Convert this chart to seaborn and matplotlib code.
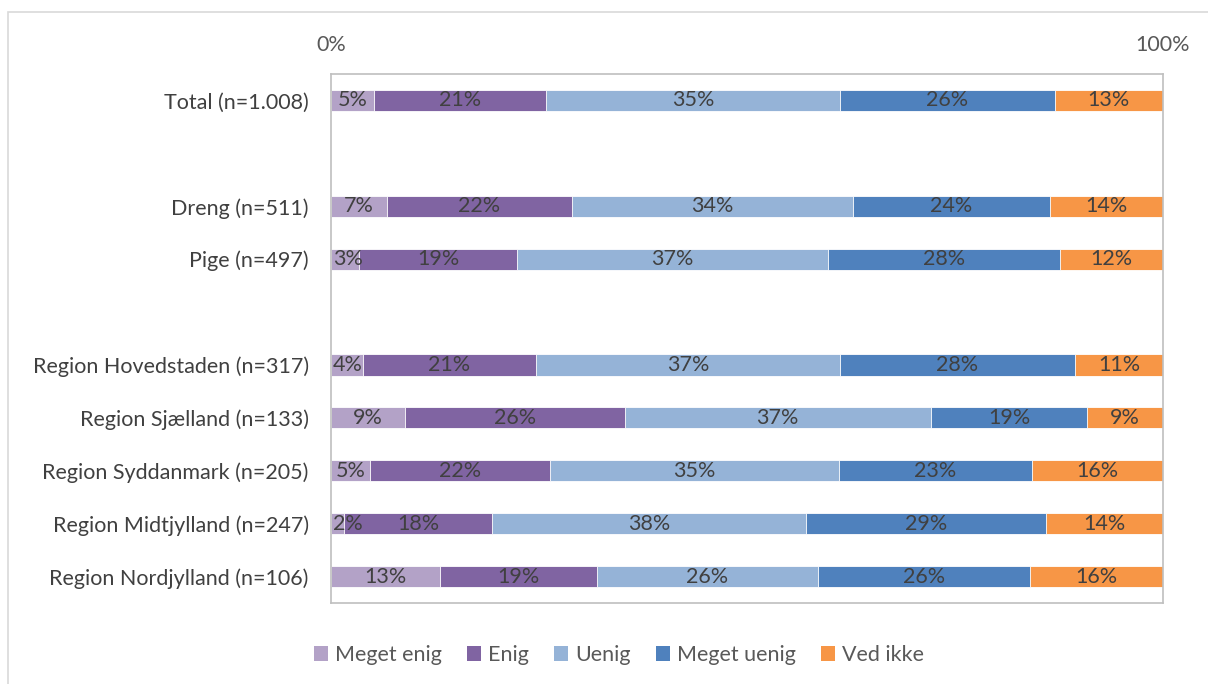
import numpy as np
import pandas as pd
import matplotlib.pyplot as plt
import seaborn as sns
from matplotlib.patches import Patch, Rectangle

# Groups shown on the y axis (blank rows separate the blocks)
groups = ["Total (n=1.008)", " ", "Dreng (n=511)", "Pige (n=497)", "  ",
          "Region Hovedstaden (n=317)", "Region Sjælland (n=133)",
          "Region Syddanmark (n=205)", "Region Midtjylland (n=247)",
          "Region Nordjylland (n=106)"]
answers = ["Meget enig", "Enig", "Uenig", "Meget uenig", "Ved ikke"]
colors = ["#B3A2C7", "#8064A2", "#95B3D7", "#4F81BD", "#F79646"]

# share (%) per answer, in the same order as the real groups
rows = ["Total (n=1.008)", "Dreng (n=511)", "Pige (n=497)",
        "Region Hovedstaden (n=317)", "Region Sjælland (n=133)",
        "Region Syddanmark (n=205)", "Region Midtjylland (n=247)",
        "Region Nordjylland (n=106)"]
meget_enig = [5.2, 6.7, 3.4, 3.9, 8.9, 4.7, 1.6, 13.1]
enig = [20.6, 22.3, 19.0, 20.7, 26.4, 21.6, 17.7, 18.9]
uenig = [35.4, 33.7, 37.3, 36.6, 36.8, 34.7, 37.8, 26.5]
meget_uenig = [25.8, 23.7, 27.9, 28.2, 18.8, 23.3, 28.8, 25.5]
ved_ikke = [13.0, 13.6, 12.4, 10.6, 9.1, 15.7, 14.1, 16.0]

df = pd.DataFrame({"gruppe": rows, "Meget enig": meget_enig, "Enig": enig,
                   "Uenig": uenig, "Meget uenig": meget_uenig,
                   "Ved ikke": ved_ikke})
cum = df[answers].cumsum(axis=1)

sns.set_style("white")
plt.rcParams["font.family"] = ["Lato", "DejaVu Sans"]
fs = 15.5

fig = plt.figure(figsize=(12.08, 6.84), dpi=100)
fig.patches.append(Rectangle((8 / 1208, -0.1), 1.1, 1 - 12 / 684 + 0.1,
                             transform=fig.transFigure, fill=False,
                             edgecolor="#D9D9D9", linewidth=1.2))
ax = fig.add_axes([331 / 1208, 1 - 603 / 684, (1163 - 331) / 1208, (603 - 74) / 684])

# stacked bars: draw cumulative totals from the right-most answer back
for i in range(len(answers) - 1, -1, -1):
    d = pd.DataFrame({"gruppe": df["gruppe"], "v": cum[answers[i]]})
    sns.barplot(data=d, x="v", y="gruppe", order=groups, color=colors[i],
                width=0.4, saturation=1, edgecolor="white", linewidth=0.6,
                ax=ax, orient="h")

pos = {g: k for k, g in enumerate(groups)}
for _, r in df.iterrows():
    left = 0
    for a in answers:
        v = r[a]
        # keep tiny labels inside the plot area, like Excel does
        ax.text(max(left + v / 2, 2.0), pos[r["gruppe"]], f"{v:.0f}%",
                ha="center", va="center", fontsize=fs, color="#404040")
        left += v

ax.set_xlim(0, 100)
ax.set_xticks([0, 100])
ax.set_xticklabels(["0%", "100%"])
ax.xaxis.tick_top()
ax.tick_params(axis="x", length=0, labelsize=fs, labelcolor="#595959", pad=14)
ax.tick_params(axis="y", length=0, labelsize=fs, labelcolor="#404040", pad=16)
ax.set_xlabel("")
ax.set_ylabel("")
for s in ax.spines.values():
    s.set_visible(True)
    s.set_color("#BFBFBF")
    s.set_linewidth(1.2)

handles = [Patch(facecolor=c, edgecolor="none") for c in colors]
fig.legend(handles, answers, loc="center", bbox_to_anchor=(619 / 1208, 1 - 655 / 684),
           ncol=5, frameon=False, fontsize=fs, labelcolor="#595959",
           handlelength=0.65, handleheight=0.65, handletextpad=0.3,
           columnspacing=1.2)

fig.savefig("out.png", dpi=100)
